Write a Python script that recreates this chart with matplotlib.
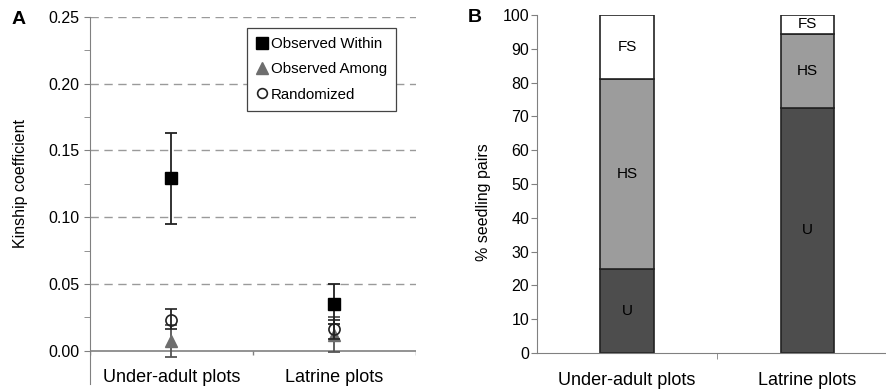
import numpy as np
import matplotlib
matplotlib.use("Agg")
import matplotlib.pyplot as plt
from matplotlib.lines import Line2D

plt.rcParams['font.family'] = ['Liberation Sans', 'DejaVu Sans']

# panel A data
plots = ['Under-adult plots', 'Latrine plots']
within_mean = [0.129, 0.035]
within_lo = [0.095, 0.020]
within_hi = [0.163, 0.050]
among_mean = [0.007, 0.012]
among_lo = [-0.005, -0.001]
among_hi = [0.019, 0.025]
rand_mean = [0.023, 0.016]
rand_lo = [0.016, 0.009]
rand_hi = [0.031, 0.023]

# panel B data
u_pct = [25.0, 72.5]
hs_pct = [56.0, 22.0]
fs_pct = [19.0, 5.5]

axis_grey = '#808080'

fig = plt.figure(figsize=(8.87, 3.91), dpi=100)
axA = fig.add_axes([90 / 887, 7 / 391, 326 / 887, 367 / 391])
axB = fig.add_axes([537 / 887, 38 / 391, 350 / 887, 338 / 391])

# ---- panel A
x = np.arange(len(plots))
axA.set_xlim(-0.5, 1.5)
axA.set_ylim(-0.025, 0.25)

for y in np.arange(0.05, 0.26, 0.05):
    axA.axhline(y, color='#9a9a9a', lw=1, dashes=(6, 4), zorder=0)
axA.axhline(0, color=axis_grey, lw=1.2, zorder=1)
axA.vlines([-0.5, 0.5, 1.5], -0.003, 0, color=axis_grey, lw=1)


def errs(mean, lo, hi):
    m = np.array(mean)
    return np.vstack([m - np.array(lo), np.array(hi) - m])


axA.errorbar(x, among_mean, yerr=errs(among_mean, among_lo, among_hi), fmt='^',
             color='#6e6e6e', ecolor='#555555', ms=8.5, capsize=4, elinewidth=1.3,
             capthick=1.3, zorder=3)
axA.errorbar(x, rand_mean, yerr=errs(rand_mean, rand_lo, rand_hi), fmt='o',
             mfc='none', mec='#222222', mew=1.2, ecolor='#222222', ms=8, capsize=4,
             elinewidth=1.3, capthick=1.3, zorder=4)
axA.errorbar(x, within_mean, yerr=errs(within_mean, within_lo, within_hi), fmt='s',
             color='black', ecolor='#222222', ms=8.5, capsize=4, elinewidth=1.3,
             capthick=1.3, zorder=5)

for xi, lab in zip(x, plots):
    axA.text(xi, -0.0205, lab, ha='center', va='center', fontsize=13)

axA.set_xticks([])
axA.set_yticks(np.arange(0, 0.26, 0.05))
axA.set_yticklabels(['%.2f' % v for v in np.arange(0, 0.26, 0.05)], fontsize=11.5)
axA.set_yticks(np.arange(0.025, 0.25, 0.05), minor=True)
axA.tick_params(axis='y', which='both', direction='out', length=4, color=axis_grey, pad=3.7)
for s in ['top', 'right', 'bottom']:
    axA.spines[s].set_visible(False)
axA.spines['left'].set_color(axis_grey)
axA.set_ylabel('Kinship coefficient', fontsize=11.5)
axA.yaxis.set_label_coords(-0.19, 0.545)

handles = [
    Line2D([], [], ls='none', marker='s', color='black', ms=8),
    Line2D([], [], ls='none', marker='^', color='#6e6e6e', ms=8),
    Line2D([], [], ls='none', marker='o', mfc='none', mec='#222222', mew=1.2, ms=7),
]
leg = axA.legend(handles, ['Observed Within', 'Observed Among', 'Randomized'],
                 loc='upper right', bbox_to_anchor=(0.939, 0.970), borderaxespad=0,
                 fancybox=False, framealpha=1, edgecolor='#444444', fontsize=10.8,
                 handlelength=0.8, handletextpad=0.2, borderpad=0.6, labelspacing=0.75)
leg.get_frame().set_linewidth(0.9)

fig.text(19 / 887, 1 - 20 / 391, 'A', fontsize=14, fontweight='bold', ha='center', va='center')

# ---- panel B
xb = np.arange(len(plots))
w = 0.295
u = np.array(u_pct)
hs = np.array(hs_pct)
fs = np.array(fs_pct)
axB.bar(xb, u, w, color='#4d4d4d', edgecolor='#222222', lw=1.2, zorder=2)
axB.bar(xb, hs, w, bottom=u, color='#9c9c9c', edgecolor='#222222', lw=1.2, zorder=2)
axB.bar(xb, fs, w, bottom=u + hs, color='white', edgecolor='#222222', lw=1.2, zorder=2)

for xi in xb:
    axB.text(xi, u[xi] / 2, 'U', ha='center', va='center', fontsize=11)
    axB.text(xi, u[xi] + hs[xi] / 2, 'HS', ha='center', va='center', fontsize=11)
    axB.text(xi, u[xi] + hs[xi] + fs[xi] / 2, 'FS', ha='center', va='center', fontsize=11)

axB.set_xlim(-0.5, 1.444)
axB.set_ylim(0, 100)
axB.set_yticks(np.arange(0, 101, 10))
axB.set_yticklabels([str(v) for v in range(0, 101, 10)], fontsize=11.5)
axB.tick_params(axis='y', direction='out', length=4, color=axis_grey, pad=1.5)
axB.set_xticks(xb)
axB.set_xticklabels(plots, fontsize=13)
axB.tick_params(axis='x', which='major', length=0, pad=14)
axB.set_xticks([0.5], minor=True)
axB.tick_params(axis='x', which='minor', direction='out', length=4, color=axis_grey)
for s in ['top', 'right']:
    axB.spines[s].set_visible(False)
axB.spines['left'].set_color(axis_grey)
axB.spines['bottom'].set_color(axis_grey)
axB.set_ylabel('% seedling pairs', fontsize=11.5)
axB.yaxis.set_label_coords(-0.132, 0.447)

fig.text(475 / 887, 1 - 18 / 391, 'B', fontsize=14, fontweight='bold', ha='center', va='center')

fig.savefig('out.png', dpi=100)
